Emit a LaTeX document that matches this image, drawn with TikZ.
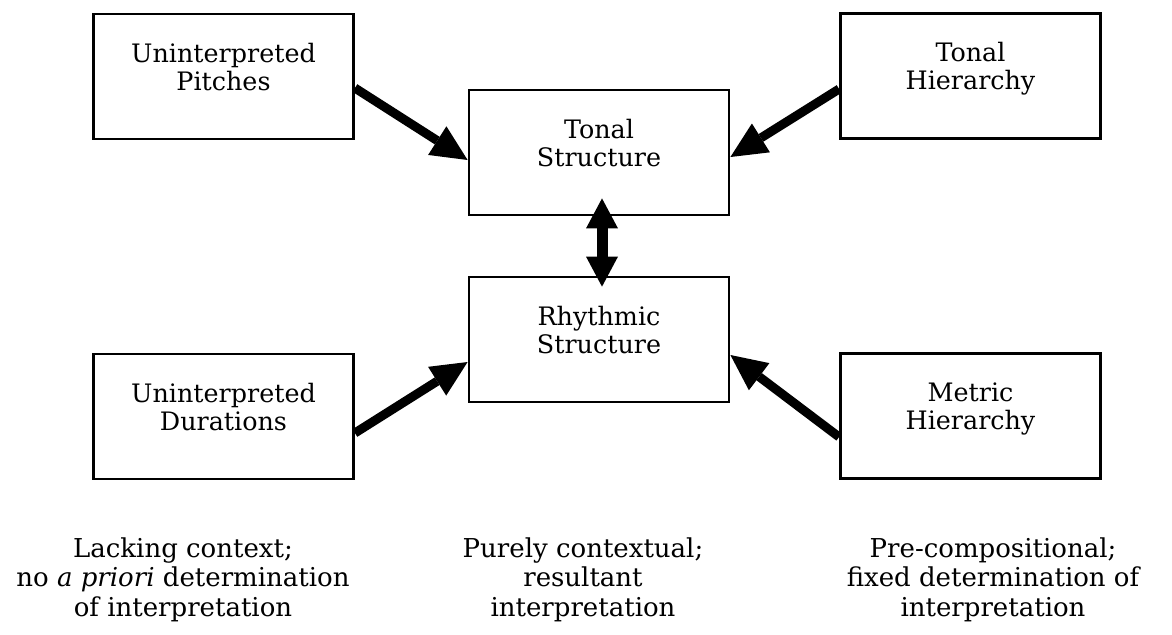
\documentclass[tikz,border=0pt]{standalone}
\usepackage{fontspec}
\setmainfont{DejaVu Serif}
\usetikzlibrary{arrows.meta,calc}
\newcommand\boxfont{\fontsize{12.7}{14}\selectfont}
\newcommand\notefont{\fontsize{13}{14.75}\selectfont}
\begin{document}
\begin{tikzpicture}[x=0.5pt,y=-0.5pt,
  box/.style={draw, line width=1.4pt, minimum width=130pt, minimum height=62.5pt, inner sep=0pt},
  lbl/.style={align=center, inner sep=0pt, font=\boxfont},
  note/.style={align=center, inner sep=0pt, font=\notefont},
  flow/.style={line width=4.5pt, -{Triangle[length=18pt,width=17pt,line width=0pt]}},
  link/.style={line width=5.5pt, {Triangle[length=15pt,width=16pt,line width=0pt]}-{Triangle[length=15pt,width=16pt,line width=0pt]}},
]
\useasboundingbox (0,0) rectangle (1172,634);

% boxes
\node[box] (up) at (223.5,76.5) {};
\node[box] (th) at (970.5,76) {};
\node[box] (ts) at (599,152.5) {};
\node[box] (rs) at (599,339.5) {};
\node[box] (ud) at (223.5,416.5) {};
\node[box] (mh) at (970.5,416) {};

% box labels
\node[lbl] (up-l) at ($(up)+(0,-6)$) {\strut Uninterpreted\\Pitches\strut};
\node[lbl] (th-l) at ($(th)+(0,-6)$) {\strut Tonal\\Hierarchy\strut};
\node[lbl] (ts-l) at ($(ts)+(0,-6)$) {\strut Tonal\\Structure\strut};
\node[lbl] (rs-l) at ($(rs)+(0,-6)$) {\strut Rhythmic\\Structure\strut};
\node[lbl] (ud-l) at ($(ud)+(0,-6)$) {\strut Uninterpreted\\Durations\strut};
\node[lbl] (mh-l) at ($(mh)+(0,-6)$) {\strut Metric\\Hierarchy\strut};

% connectors
\draw[flow] ($(up.east)+(0,11.5)$) -- ($(ts.west)+(0,7.5)$);
\draw[flow] ($(th.west)+(0,13)$) -- ($(ts.east)+(0,4.5)$);
\draw[flow] ($(ud.east)+(0,16.5)$) -- ($(rs.west)+(0,22.5)$);
\draw[flow] ($(mh.west)+(0,21)$) -- ($(rs.east)+(0,15.5)$);
\draw[link] ($(ts.south)+(3,-18)$) -- ($(rs.north)+(3,11)$);

% notes under the three columns
\node[note] (n1) at (183,580.6) {\strut Lacking context;\\no \textit{a priori} determination\\of interpretation\strut};
\node[note] (n2) at (583,580.6) {\strut Purely contextual;\\resultant\\interpretation\strut};
\node[note] (n3) at (993,580.6) {\strut Pre-compositional;\\fixed determination of\\interpretation\strut};
\end{tikzpicture}
\end{document}
